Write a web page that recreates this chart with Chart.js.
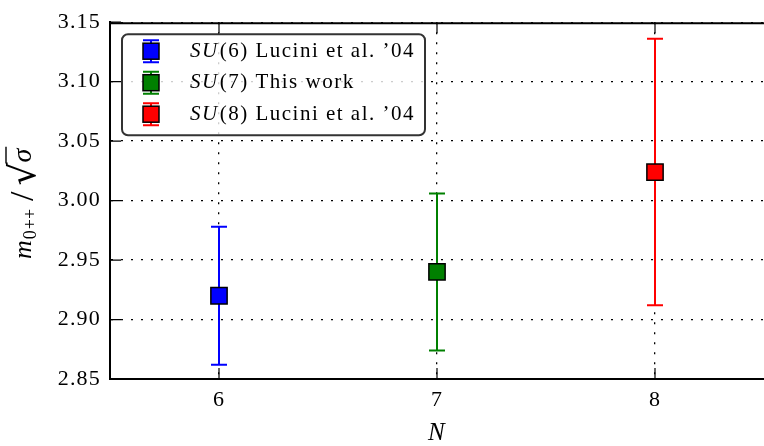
<!DOCTYPE html>
<html>
<head>
<meta charset="utf-8">
<script src="https://cdn.jsdelivr.net/npm/chart.js@4"></script>
<style>body{margin:0;background:#fff}</style>
</head>
<body>
<canvas id="massChart" width="764" height="446"></canvas>
<script>
// values
const legendLabels = ['SU(6) Lucini et al. \u201904', 'SU(7) This work', 'SU(8) Lucini et al. \u201904']
const nValues = [6, 7, 8]
const massValues = [2.920, 2.940, 3.024]
const massErrors = [0.058, 0.066, 0.112]
const yTicks = [2.85, 2.90, 2.95, 3.00, 3.05, 3.10, 3.15]
const colors = ['#0000ff', '#008000', '#ff0000']

const serif = '"Liberation Serif", "DejaVu Serif", serif'

const errorBars = {
    id: 'errorBars',
    beforeDraw(chart) {
        // wider spacing to get closer to the TeX font
        chart.ctx.letterSpacing = '1.2px'
    },
    beforeDatasetsDraw(chart) {
        const ctx = chart.ctx
        const x = chart.scales.x, y = chart.scales.y
        chart.data.datasets.forEach(ds => {
            ds.data.forEach(p => {
                const px = x.getPixelForValue(p.x)
                const top = y.getPixelForValue(p.y + p.err)
                const bot = y.getPixelForValue(p.y - p.err)
                ctx.save()
                ctx.strokeStyle = ds.backgroundColor
                ctx.lineWidth = 2
                ctx.beginPath()
                ctx.moveTo(px, top); ctx.lineTo(px, bot)
                ctx.moveTo(px - 8, top); ctx.lineTo(px + 8, top)
                ctx.moveTo(px - 8, bot); ctx.lineTo(px + 8, bot)
                ctx.stroke()
                ctx.restore()
            })
        })
    }
}

const frameAndLegend = {
    id: 'frameAndLegend',
    afterDraw(chart) {
        const ctx = chart.ctx
        const area = chart.chartArea
        const x = chart.scales.x, y = chart.scales.y
        ctx.save()
        // top spine
        ctx.strokeStyle = '#000'
        ctx.lineWidth = 2
        ctx.beginPath()
        ctx.moveTo(area.left, area.top + 1)
        ctx.lineTo(area.right, area.top + 1)
        ctx.stroke()
        // inward ticks
        ctx.lineWidth = 1.2
        ctx.beginPath()
        x.ticks.forEach(t => {
            const px = x.getPixelForValue(t.value)
            ctx.moveTo(px, area.bottom); ctx.lineTo(px, area.bottom - 11)
            ctx.moveTo(px, area.top); ctx.lineTo(px, area.top + 11)
        })
        y.ticks.forEach(t => {
            const py = y.getPixelForValue(t.value)
            ctx.moveTo(area.left, py); ctx.lineTo(area.left + 11, py)
        })
        ctx.stroke()

        // legend box
        const bx = area.left + 12, by = area.top + 12, bw = 303, bh = 101
        ctx.beginPath()
        ctx.roundRect(bx, by, bw, bh, 6)
        ctx.fillStyle = 'rgba(255,255,255,0.8)'
        ctx.fill()
        ctx.strokeStyle = '#333'
        ctx.lineWidth = 2
        ctx.stroke()
        ctx.letterSpacing = '1.5px'
        legendLabels.forEach((label, i) => {
            const cy = by + 17 + i * 31.5
            const mx = bx + 29
            ctx.strokeStyle = colors[i]
            ctx.lineWidth = 2
            ctx.beginPath()
            ctx.moveTo(mx, cy - 11); ctx.lineTo(mx, cy + 11)
            ctx.moveTo(mx - 8, cy - 11); ctx.lineTo(mx + 8, cy - 11)
            ctx.moveTo(mx - 8, cy + 11); ctx.lineTo(mx + 8, cy + 11)
            ctx.stroke()
            ctx.fillStyle = colors[i]
            ctx.fillRect(mx - 8, cy - 8, 16, 16)
            ctx.strokeStyle = '#000'
            ctx.lineWidth = 1.5
            ctx.strokeRect(mx - 8, cy - 8, 16, 16)
            ctx.fillStyle = '#000'
            ctx.textBaseline = 'middle'
            ctx.font = 'italic 21px ' + serif
            const tx = bx + 68
            ctx.fillText(label.slice(0, 2), tx, cy)
            const w = ctx.measureText(label.slice(0, 2)).width
            ctx.font = '21px ' + serif
            ctx.fillText(label.slice(2), tx + w + 1, cy)
        })

        // y axis title  m_{0++}/sqrt(sigma)
        ctx.letterSpacing = '0px'
        ctx.translate(31, 259)
        ctx.rotate(-Math.PI / 2)
        ctx.fillStyle = '#000'
        ctx.textBaseline = 'alphabetic'
        let cx = 0
        ctx.font = 'italic 26px ' + serif
        ctx.fillText('m', cx, 0)
        cx += ctx.measureText('m').width + 1
        ctx.font = '18px ' + serif
        ctx.fillText('0', cx, 5)
        cx += ctx.measureText('0').width + 1
        ctx.fillText('++', cx, 5)
        cx += ctx.measureText('++').width + 8
        ctx.font = '34px ' + serif
        ctx.fillText('/', cx, 2)
        cx += ctx.measureText('/').width + 6
        ctx.font = '36px "DejaVu Sans", sans-serif'
        ctx.fillText('\u221a', cx, 4)
        cx += ctx.measureText('\u221a').width
        ctx.font = 'italic 28px ' + serif
        const sw = ctx.measureText('\u03c3').width
        ctx.fillText('\u03c3', cx, 0)
        ctx.lineWidth = 1.4
        ctx.beginPath()
        ctx.moveTo(cx - 1, -25)
        ctx.lineTo(cx + sw + 2, -25)
        ctx.stroke()
        ctx.restore()
    }
}

const datasets = nValues.map((n, i) => ({
    label: legendLabels[i],
    data: [{x: n, y: massValues[i], err: massErrors[i]}],
    backgroundColor: colors[i],
    borderColor: '#000',
    borderWidth: 1.5,
    pointStyle: 'rect',
    pointRadius: 11.5,
    pointHoverRadius: 11.5
}))

new Chart(document.getElementById('massChart'), {
    type: 'scatter',
    data: {datasets: datasets},
    options: {
        responsive: false,
        animation: false,
        events: [],
        layout: {autoPadding: false, padding: {top: 18, right: 0, bottom: 0, left: 0}},
        plugins: {legend: {display: false}, tooltip: {enabled: false}},
        scales: {
            x: {
                min: 5.5, max: 8.5, z: 1,
                afterBuildTicks: s => { s.ticks = nValues.map(v => ({value: v})) },
                afterFit: s => { s.height = 67 },
                grid: {color: '#000', lineWidth: 1.3, drawTicks: false},
                border: {display: true, color: '#000', width: 2, dash: [2, 8]},
                ticks: {color: '#000', padding: 8, font: {family: serif, size: 22}},
                title: {display: true, text: 'N', color: '#000', padding: {top: 0, bottom: -2},
                    font: {family: serif, size: 25, style: 'italic'}}
            },
            y: {
                min: 2.85, max: 3.15, z: 1,
                afterBuildTicks: s => { s.ticks = yTicks.map(v => ({value: v})) },
                afterFit: s => { s.width = 110 },
                grid: {color: '#000', lineWidth: 1.3, drawTicks: false},
                border: {display: true, color: '#000', width: 2, dash: [2, 8]},
                ticks: {color: '#000', padding: 9, font: {family: serif, size: 22},
                    callback: v => v.toFixed(2)}
            }
        }
    },
    plugins: [errorBars, frameAndLegend]
})
</script>
</body>
</html>
